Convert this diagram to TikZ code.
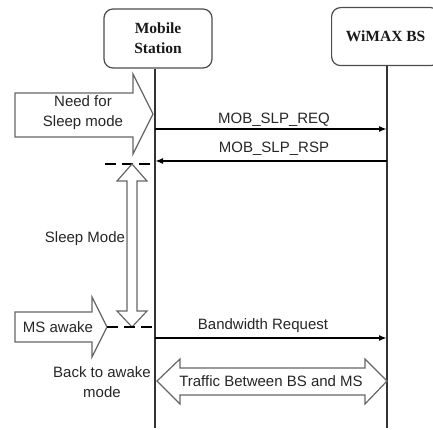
\documentclass[tikz,border=0pt]{standalone}
\usepackage{fontspec}
\setmainfont{Liberation Serif}
\setsansfont{Liberation Sans}
\usetikzlibrary{arrows.meta}

\begin{document}
\begin{tikzpicture}[x=1pt,y=-1pt,
  actor/.style={draw=black!70, rounded corners=9pt, line width=1.2pt,
    font=\bfseries\fontsize{15.5}{20}\selectfont, align=center, text=black!90},
  lifeline/.style={draw=black!80, line width=1.5pt},
  msg/.style={draw=black, line width=1.9pt, -{Latex[length=8pt,width=6pt]}},
  block/.style={draw=black!60, line width=1.2pt, fill=white, line join=miter},
  lbl/.style={font=\sffamily\fontsize{15}{18}\selectfont, text=black!85, align=center, inner sep=0pt},
  guide/.style={draw=black, line width=1.2pt, dash pattern=on 11pt off 6pt}
]
\useasboundingbox (0,0) rectangle (433,430);

% participants
\node[actor, minimum width=108pt, minimum height=59pt] (ms) at (158,38.5) {Mobile\\Station};
\node[actor, minimum width=108pt, minimum height=58pt, anchor=north west] (bs) at (331,7) {WiMAX BS};

% lifelines
\coordinate (msEnd) at (155,428);
\coordinate (bsEnd) at (387,428);
\draw[lifeline] (ms.south -| msEnd) -- (msEnd);
\draw[lifeline] (bs.south -| bsEnd) -- (bsEnd);

% "Need for Sleep mode" block arrow
\draw[block] (15,93) -- (133,93) -- (133,74) -- (153,114) -- (133,154) -- (133,137) -- (15,137) -- cycle;
\node[lbl] (need) at (83,113) {Need for\\[2pt]Sleep mode};

% sleep request / response
\coordinate (req0) at (155,129);
\coordinate (req1) at (387,129);
\draw[msg] (req0) -- (req1);
\node[lbl] (reqlbl) at (274,120) {MOB\_SLP\_REQ};

\coordinate (rsp0) at (387,161);
\coordinate (rsp1) at (155,161);
\draw[msg] (rsp0) -- (rsp1);
\node[lbl] (rsplbl) at (274,149) {MOB\_SLP\_RSP};

% sleep start marker
\coordinate (sleepL) at (105,164);
\coordinate (sleepR) at (155,164);
\draw[guide] (sleepL) -- (sleepR);

% sleep period double arrow
\draw[block] (132,164) -- (147,181) -- (137,181) -- (137,311) -- (147,311) -- (132,327)
  -- (117,311) -- (127,311) -- (127,181) -- (117,181) -- cycle;
\node[lbl] (sleep) at (85,239) {Sleep Mode};

% "MS awake" block arrow
\draw[block] (15,312) -- (92,312) -- (92,297) -- (107,327) -- (92,357) -- (92,342) -- (15,342) -- cycle;
\node[lbl] (awake) at (58,327) {MS awake};

% wake-up marker
\coordinate (wakeL) at (107,327);
\coordinate (wakeR) at (155,327);
\draw[guide] (wakeL) -- (wakeR);

% bandwidth request
\coordinate (bw0) at (155,338);
\coordinate (bw1) at (387,338);
\draw[msg] (bw0) -- (bw1);
\node[lbl] (bwlbl) at (263,326) {Bandwidth Request};

\node[lbl] (back) at (102,382) {Back to awake\\[2pt]mode};

% traffic double arrow
\draw[block] (157,381) -- (180,359) -- (180,368) -- (365,368) -- (365,359) -- (387,381)
  -- (365,404) -- (365,395) -- (180,395) -- (180,404) -- cycle;
\node[lbl] (traffic) at (271,381) {Traffic Between BS and MS};
\end{tikzpicture}
\end{document}
